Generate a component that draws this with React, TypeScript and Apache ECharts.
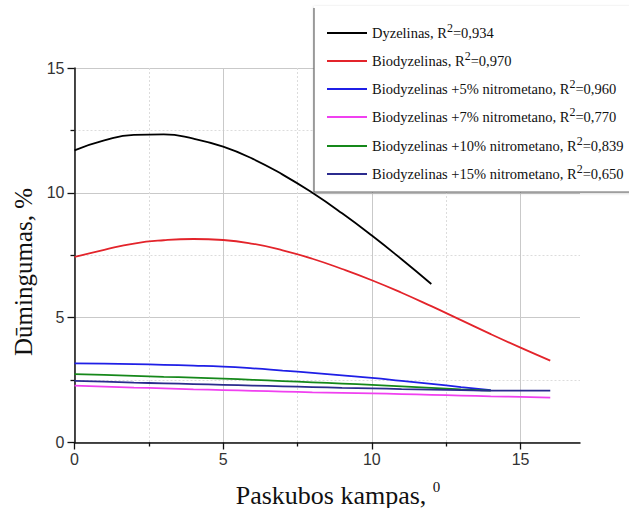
import React, { useEffect, useRef } from "react";
import * as echarts from "echarts";

// Angle values (x axis, degrees)
const xValues = [0, 1, 2, 3, 4, 5, 6, 7, 8, 9, 10, 11, 12, 13, 14, 15, 16];

// Smokiness values (%)
const dyzelinas = [11.7, 12.1, 12.32, 12.34, 12.17, 11.85, 11.36, 10.73, 10.0, 9.18, 8.29, 7.34, 6.35];
const biodyzelinas = [7.43, 7.72, 7.97, 8.1, 8.15, 8.11, 7.96, 7.7, 7.36, 6.95, 6.5, 6.0, 5.46, 4.9, 4.34, 3.8, 3.28];
const bio5 = [3.17, 3.16, 3.14, 3.11, 3.08, 3.04, 2.97, 2.88, 2.79, 2.69, 2.59, 2.47, 2.35, 2.22, 2.1];
const bio7 = [2.28, 2.24, 2.2, 2.17, 2.13, 2.1, 2.07, 2.04, 2.01, 1.99, 1.97, 1.94, 1.91, 1.88, 1.85, 1.83, 1.8];
const bio10 = [2.74, 2.71, 2.67, 2.63, 2.6, 2.56, 2.51, 2.46, 2.41, 2.36, 2.31, 2.25, 2.19, 2.13, 2.08];
const bio15 = [2.47, 2.44, 2.4, 2.37, 2.34, 2.31, 2.28, 2.25, 2.22, 2.19, 2.17, 2.14, 2.12, 2.1, 2.08, 2.08, 2.08];

const seriesNames = [
  "Dyzelinas",
  "Biodyzelinas",
  "Biodyzelinas +5% nitrometano",
  "Biodyzelinas +7% nitrometano",
  "Biodyzelinas +10% nitrometano",
  "Biodyzelinas +15% nitrometano",
];
const r2Values = ["0,934", "0,970", "0,960", "0,770", "0,839", "0,650"];
const seriesValues = [dyzelinas, biodyzelinas, bio5, bio7, bio10, bio15];
const seriesColors = ["#000000", "#e3242b", "#1f1fe6", "#f040f0", "#15881a", "#2b2b8e"];

const xMajorTicks = [0, 5, 10, 15];
const xMinorTicks = [2.5, 7.5, 12.5];

const legendCenters = [33, 61, 89, 117, 146, 174];

export default function App() {
  const ref = useRef<HTMLDivElement>(null);

  useEffect(() => {
    document.body.style.margin = "0";
    if (!ref.current) return;
    const chart = echarts.init(ref.current, undefined, { renderer: "svg" });

    const serif = '"Liberation Serif", "Times New Roman", serif';
    const sans = '"Liberation Sans", Arial, sans-serif';

    const series = seriesNames.map((name, i) => ({
      name,
      type: "line",
      xAxisIndex: 0,
      yAxisIndex: 0,
      data: seriesValues[i].map((v, j) => [xValues[j], v]),
      smooth: true,
      showSymbol: false,
      symbol: "none",
      itemStyle: { color: seriesColors[i] },
      lineStyle: { color: seriesColors[i], width: 1.8 },
      z: 2,
    }));

    const legends = seriesNames.map((name, i) => ({
      data: [name],
      orient: "vertical",
      left: 327,
      top: legendCenters[i] - 11,
      icon: "rect",
      itemWidth: 40,
      itemHeight: 2,
      padding: 0,
      selectedMode: false,
      z: 10,
      formatter: () => `${name}, R{sup|2}=${r2Values[i]}`,
      textStyle: {
        fontFamily: serif,
        fontSize: 14.5,
        color: "#111",
        lineHeight: 22,
        rich: {
          sup: { fontFamily: serif, fontSize: 12, verticalAlign: "top", lineHeight: 12, color: "#111" },
        },
      },
    }));

    const option: any = {
      animation: false,
      backgroundColor: "#ffffff",
      grid: { left: 74.5, right: 49, top: 68, bottom: 65.5 },
      xAxis: [
        {
          type: "value",
          min: 0,
          max: 17,
          interval: 5,
          axisLine: { show: true, lineStyle: { color: "#111", width: 1.5 } },
          axisTick: {
            show: true,
            length: 7,
            customValues: xMajorTicks,
            lineStyle: { color: "#111", width: 1.3 },
          },
          axisLabel: {
            customValues: xMajorTicks,
            margin: 9,
            fontFamily: sans,
            fontSize: 16,
            color: "#333",
          },
          splitLine: { show: true, lineStyle: { color: "#c9c9c9", width: 1 } },
        },
        {
          type: "value",
          min: 0,
          max: 17,
          interval: 2.5,
          position: "bottom",
          axisLine: { show: false },
          axisTick: {
            show: true,
            length: 4,
            customValues: xMinorTicks,
            lineStyle: { color: "#111", width: 1.3 },
          },
          axisLabel: { show: false },
          splitLine: { show: true, lineStyle: { color: "#dcdcdc", width: 1, type: [2, 2] } },
        },
      ],
      yAxis: {
        type: "value",
        min: 0,
        max: 15,
        interval: 5,
        axisLine: { show: true, lineStyle: { color: "#111", width: 1.5 } },
        axisTick: { show: true, length: 7, lineStyle: { color: "#111", width: 1.3 } },
        minorTick: { show: true, splitNumber: 2, length: 4, lineStyle: { color: "#111", width: 1.3 } },
        axisLabel: { margin: 10, fontFamily: sans, fontSize: 16, color: "#333" },
        splitLine: { show: true, lineStyle: { color: "#c9c9c9", width: 1 } },
        minorSplitLine: { show: true, lineStyle: { color: "#dcdcdc", width: 1, type: [2, 2] } },
      },
      legend: legends,
      graphic: [
        {
          type: "rect",
          z: 8,
          shape: { x: 314, y: 6, width: 330, height: 186 },
          style: { fill: "#ffffff", shadowBlur: 3, shadowOffsetY: 1, shadowColor: "rgba(0,0,0,0.25)" },
        },
        {
          type: "line",
          z: 9,
          shape: { x1: 314, y1: 8, x2: 314, y2: 192 },
          style: { stroke: "#666", lineWidth: 1.2 },
        },
        {
          type: "line",
          z: 9,
          shape: { x1: 314, y1: 192, x2: 629, y2: 192 },
          style: { stroke: "#666", lineWidth: 1.2 },
        },
        {
          type: "text",
          z: 9,
          x: 23,
          y: 272,
          rotation: Math.PI / 2,
          style: {
            text: "Dūmingumas, %",
            fontFamily: serif,
            fontSize: 25,
            fill: "#111",
            align: "center",
            verticalAlign: "middle",
          },
        },
        {
          type: "text",
          z: 9,
          x: 338,
          y: 495,
          style: {
            text: "Paskubos kampas, {sup|0}",
            fontFamily: serif,
            fontSize: 26,
            lineHeight: 32,
            fill: "#111",
            align: "center",
            verticalAlign: "middle",
            rich: {
              sup: { fontFamily: serif, fontSize: 15, lineHeight: 15, verticalAlign: "top", fill: "#111" },
            },
          },
        },
      ],
      series,
    };

    chart.setOption(option);
    return () => chart.dispose();
  }, []);

  return <div ref={ref} style={{ width: 629, height: 508 }} />;
}
